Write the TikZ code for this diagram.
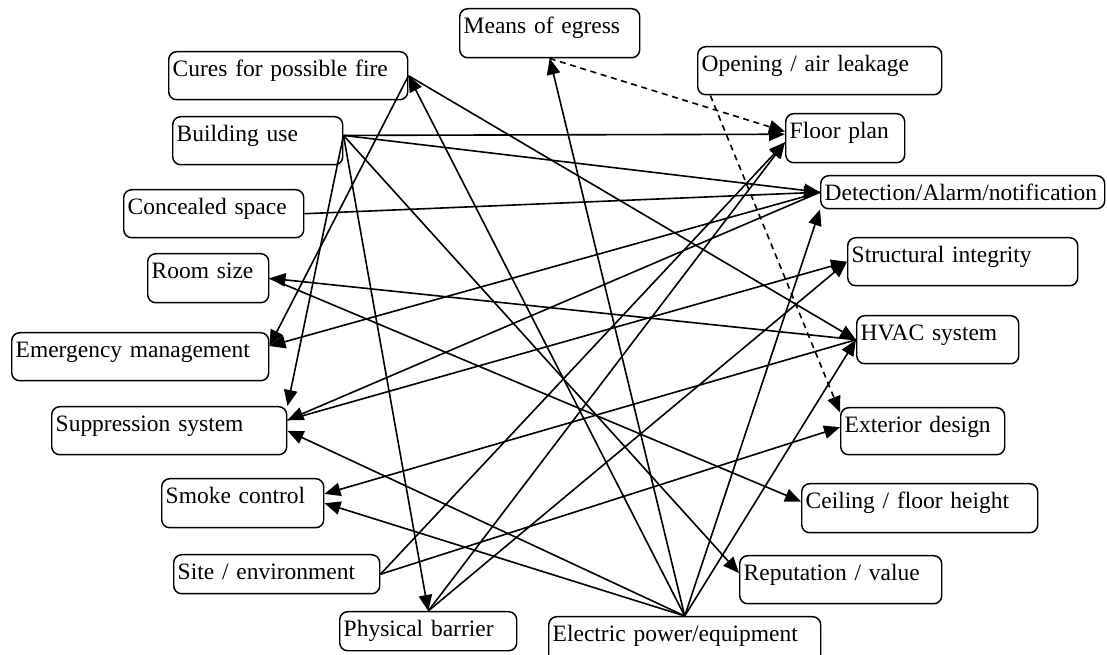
\documentclass[tikz,border=0pt]{standalone}
\usepackage{fontspec}
\setmainfont{Liberation Serif}
\usetikzlibrary{arrows.meta}
\tikzset{
    %Define standard arrow tip
    >={Triangle[length=12pt,width=10pt]},
    %Define style for boxes (width and height in px)
    factor/.style 2 args={
           rectangle,
           rounded corners=6pt,
           draw=black, line width=1.1pt,
           anchor=north west,
           align=left,
           inner xsep=3pt, inner ysep=0pt,
           text width=(#1-8)*0.75pt,
           text height=18.75pt,
           text depth=(#2-25)*0.75pt,
           font=\fontsize{17.6pt}{21pt}\selectfont},
    % Define arrow style
    pil/.style={
           ->,
           line width=1.2pt},
    weak/.style={
           pil,
           dash pattern=on 4.5pt off 3.5pt}
}
\begin{document}
\begin{tikzpicture}[x=0.75pt, y=-0.75pt]
\useasboundingbox (0,0) rectangle (1107,655);

%left column
\node[factor={239}{48}] (cures) at (168,51) {Cures for possible fire};
\node[factor={170}{48}] (use) at (172,116) {Building use};
\node[factor={180}{48}] (concealed) at (123,189) {Concealed space};
\node[factor={121}{49}] (room) at (147,253) {Room size};
\node[factor={257}{48}] (emergency) at (11,332) {Emergency management};
\node[factor={235}{48}] (suppression) at (51,406) {Suppression system};
\node[factor={162}{49}] (smoke) at (161,478) {Smoke control};
\node[factor={206}{39}] (site) at (173,554) {Site / environment};
\node[factor={177}{39}] (barrier) at (339,611) {Physical barrier};

%top and bottom
\node[factor={180}{49}] (egress) at (459,8) {Means of egress};
\node[factor={244}{48}] (opening) at (697,46) {Opening / air leakage};
\node[factor={272}{48}] (power) at (548,616) {Electric power/equipment};

%right column
\node[factor={119}{49}] (floor) at (785,113) {Floor plan};
\node[factor={284}{33}] (detect) at (820,175) {Detection/Alarm/notification};
\node[factor={230}{48}] (structural) at (847,237) {Structural integrity};
\node[factor={162}{48}] (hvac) at (856,315) {HVAC system};
\node[factor={164}{47}] (exterior) at (840,407) {Exterior design};
\node[factor={236}{49}] (ceiling) at (801,483) {Ceiling / floor height};
\node[factor={202}{48}] (reputation) at (739,555) {Reputation / value};

%weak links
\path (egress.south) edge[weak] ([yshift=5pt]floor.west)
  ([xshift=10pt]opening.south west) edge[weak] ([yshift=-4pt]exterior.north west);

%building use
\path ([yshift=4pt]use.east) edge[pil] ([yshift=3pt]floor.west)
  ([yshift=4pt]use.east) edge[pil] (detect.west)
  ([yshift=4pt]use.east) edge[pil] ([yshift=5pt]reputation.west)
  ([yshift=4pt]use.east) edge[pil] (barrier.north)
  ([yshift=4pt]use.east) edge[pil] (suppression.north east);

\path (concealed.east) edge[pil] (detect.west)
  (detect.west) edge[pil] ([yshift=8pt]emergency.east)
  (detect.west) edge[pil] ([yshift=8pt]suppression.east)
  ([yshift=8pt]suppression.east) edge[pil] (structural.west)
  (barrier.north) edge[pil] (structural.west)
  (barrier.north) edge[pil] ([yshift=-3pt]floor.west)
  (site.east) edge[pil] ([yshift=-3pt]floor.west)
  (site.east) edge[pil] ([yshift=3pt]exterior.west);

%cures, room size, hvac
\path (cures.east) edge[pil] ([yshift=8pt]emergency.east)
  (cures.east) edge[pil] (hvac.west)
  (hvac.west) edge[pil] (room.east)
  (room.east) edge[pil] ([yshift=5pt]ceiling.west)
  (hvac.west) edge[pil] ([yshift=7pt]smoke.east);

%electric power
\path (power.north) edge[pil] (cures.east)
  (power.north) edge[pil] (egress.south)
  (power.north) edge[pil] (detect.south west)
  (power.north) edge[pil] (hvac.west)
  (power.north) edge[pil] (suppression.east)
  (power.north) edge[pil] (smoke.east);

\end{tikzpicture}
\end{document}
